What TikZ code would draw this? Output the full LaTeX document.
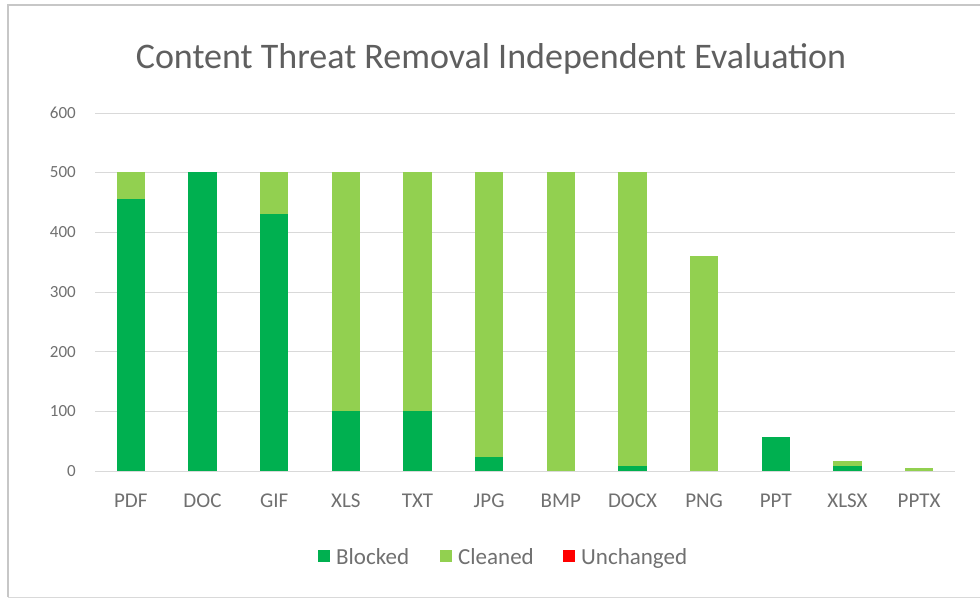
\documentclass[tikz,border=0pt]{standalone}
\usepackage{fontspec}
\setmainfont{Carlito}
\definecolor{blocked}{HTML}{00B050}
\definecolor{cleaned}{HTML}{92D050}
\definecolor{unchanged}{HTML}{FF0000}
\definecolor{txtgray}{HTML}{707070}
\definecolor{gridgray}{HTML}{D9D9D9}
\tikzset{
    ticklabel/.style = {text = txtgray, font = \fontsize{17}{20}\selectfont, inner sep = 0pt},
    catlabel/.style = {text = txtgray, font = \fontsize{21}{24}\selectfont, inner sep = 0pt, anchor = base},
    legendlabel/.style = {text = txtgray, font = \fontsize{23}{26}\selectfont, inner sep = 0pt, anchor = base west},
    swatch/.style = {minimum size = 12.5pt, inner sep = 0pt}
}
\begin{document}
\begin{tikzpicture}[x = 1pt, y = 1pt]
                \useasboundingbox (0, 0) rectangle (980, 600);
                \fill [white] (0, 0) rectangle (980, 600);
                \draw [gridgray!80!gray, line width = 1.5pt] 
                (8, 3) -- (8, 595) -- (990, 595);
                \draw [gridgray, line width = 1pt] (8, 3) -- (990, 3);

                \node [text = txtgray!85!black, font = \fontsize{36}{40}\selectfont] (title) at (491, 541) {Content Threat Removal Independent Evaluation};

                \begin{scope}[shift = {(0, 129)}, y = 0.597pt]
                    % grid and value axis
                    \draw [gridgray] (95, 100) -- (955, 100);
                    \draw [gridgray] (95, 200) -- (955, 200);
                    \draw [gridgray] (95, 300) -- (955, 300);
                    \draw [gridgray] (95, 400) -- (955, 400);
                    \draw [gridgray] (95, 500) -- (955, 500);
                    \draw [gridgray] (95, 600) -- (955, 600);
                    \node [ticklabel, anchor = east] (y0) at (76, 0) {0};
                    \node [ticklabel, anchor = east] (y100) at (76, 100) {100};
                    \node [ticklabel, anchor = east] (y200) at (76, 200) {200};
                    \node [ticklabel, anchor = east] (y300) at (76, 300) {300};
                    \node [ticklabel, anchor = east] (y400) at (76, 400) {400};
                    \node [ticklabel, anchor = east] (y500) at (76, 500) {500};
                    \node [ticklabel, anchor = east] (y600) at (76, 600) {600};

                    % stacked bars: blocked, then cleaned on top
                    \fill [blocked] (116.5, 0) rectangle (145.1, 455);
                    \fill [cleaned] (116.5, 455) rectangle (145.1, 500);
                    \fill [blocked] (188.2, 0) rectangle (216.8, 500);
                    \fill [blocked] (259.8, 0) rectangle (288.4, 430);
                    \fill [cleaned] (259.8, 430) rectangle (288.4, 500);
                    \fill [blocked] (331.5, 0) rectangle (360.1, 100);
                    \fill [cleaned] (331.5, 100) rectangle (360.1, 500);
                    \fill [blocked] (403.2, 0) rectangle (431.8, 100);
                    \fill [cleaned] (403.2, 100) rectangle (431.8, 500);
                    \fill [blocked] (474.8, 0) rectangle (503.4, 24);
                    \fill [cleaned] (474.8, 24) rectangle (503.4, 500);
                    \fill [cleaned] (546.5, 0) rectangle (575.1, 500);
                    \fill [blocked] (618.2, 0) rectangle (646.8, 9);
                    \fill [cleaned] (618.2, 9) rectangle (646.8, 500);
                    \fill [cleaned] (689.8, 0) rectangle (718.4, 360);
                    \fill [blocked] (761.5, 0) rectangle (790.1, 57);
                    \fill [blocked] (833.2, 0) rectangle (861.8, 8);
                    \fill [cleaned] (833.2, 8) rectangle (861.8, 16);
                    \fill [cleaned] (904.8, 0) rectangle (933.4, 5);
                    \draw [gridgray] (95, 0) -- (955, 0);

                    % category labels
                    \node [catlabel] (PDF) at (130.8, -61) {PDF};
                    \node [catlabel] (DOC) at (202.5, -61) {DOC};
                    \node [catlabel] (GIF) at (274.1, -61) {GIF};
                    \node [catlabel] (XLS) at (345.8, -61) {XLS};
                    \node [catlabel] (TXT) at (417.5, -61) {TXT};
                    \node [catlabel] (JPG) at (489.1, -61) {JPG};
                    \node [catlabel] (BMP) at (560.8, -61) {BMP};
                    \node [catlabel] (DOCX) at (632.5, -61) {DOCX};
                    \node [catlabel] (PNG) at (704.1, -61) {PNG};
                    \node [catlabel] (PPT) at (775.8, -61) {PPT};
                    \node [catlabel] (XLSX) at (847.5, -61) {XLSX};
                    \node [catlabel] (PPTX) at (919.1, -61) {PPTX};
                \end{scope}

                % legend
                \node [swatch, fill = blocked] (keyBlocked) at (324, 44) {};
                \node [legendlabel] (txtBlocked) at (336, 36) {Blocked};
                \node [swatch, fill = cleaned] (keyCleaned) at (446, 44) {};
                \node [legendlabel] (txtCleaned) at (458, 36) {Cleaned};
                \node [swatch, fill = unchanged] (keyUnchanged) at (569, 44) {};
                \node [legendlabel] (txtUnchanged) at (581, 36) {Unchanged};
            \end{tikzpicture}
\end{document}
